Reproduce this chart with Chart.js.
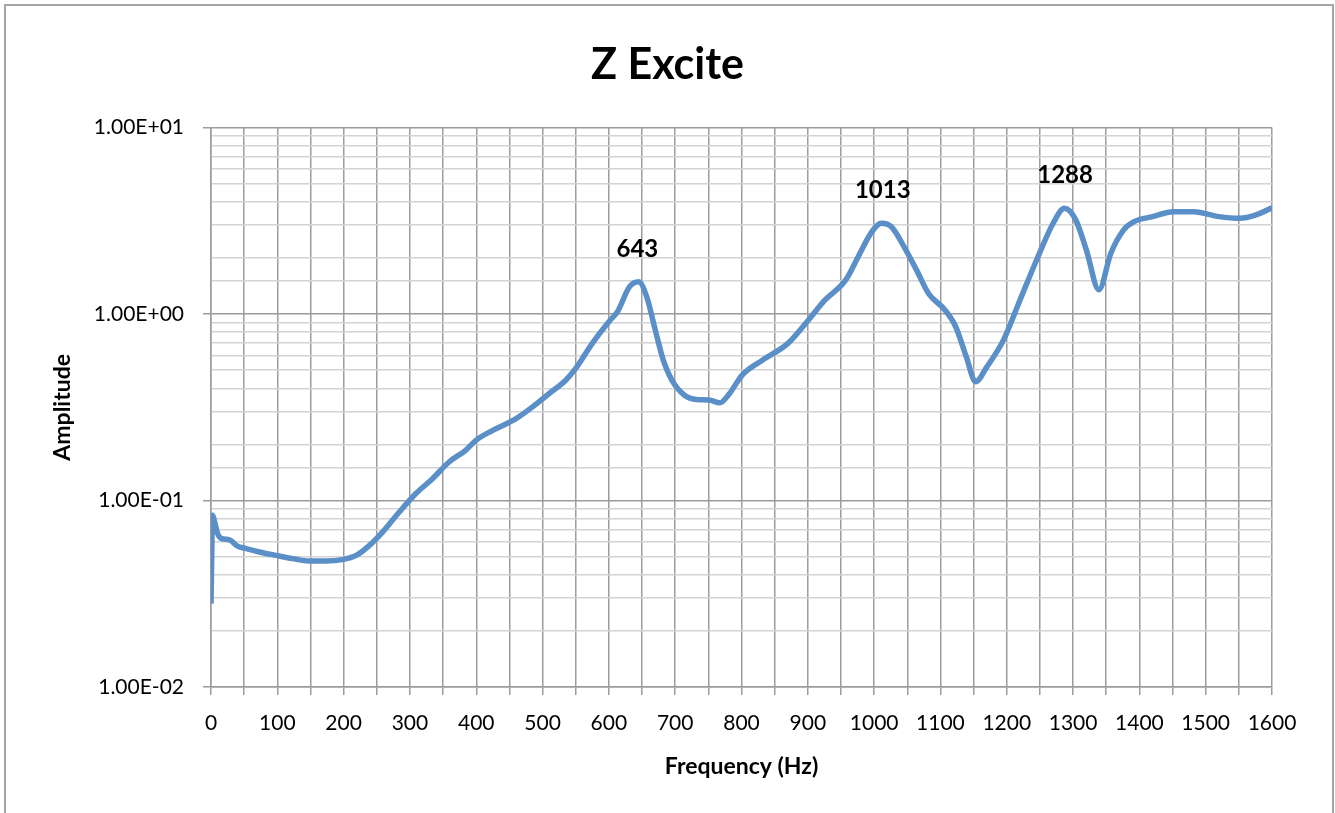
<head>
  <title>Z Excite</title>
  <script src="https://cdn.jsdelivr.net/npm/chart.js@4.4.0/dist/chart.umd.min.js"></script>
  <style>
    html, body {
      margin: 0;
      padding: 0;
      background: #fff;
      overflow: hidden;
      font-family: Lato, sans-serif;
    }

    .wrap {
      position: relative;
      width: 1335px;
      height: 813px;
    }

    .frame {
      position: absolute;
      left: 4px;
      top: 4px;
      width: 1326px;
      height: 900px;
      border: 2px solid #a6a6a6;
      pointer-events: none;
    }

    canvas {
      position: absolute;
      left: 0;
      top: 0;
    }
  </style>
</head>

<div class="wrap">
  <canvas id="chart" width="1335" height="813"></canvas>
  <div class="frame"></div>
</div>

<script>
  // frequency (Hz) and amplitude
  const freqs = [
    0, 2.5, 5, 10, 15, 28, 40, 53, 73, 98, 123, 148, 173, 198, 219, 239, 259, 284,
    309, 334, 359, 384, 400, 425, 460, 485, 510, 535, 550, 575, 600, 613, 631, 645,
    657, 670, 682, 695, 714, 732, 751, 767, 782, 801, 832, 870, 901, 926, 957, 976,
    995, 1011, 1026, 1045, 1064, 1082, 1107, 1123, 1139, 1153, 1170, 1195, 1220, 1245,
    1270, 1287, 1304, 1320, 1339, 1357, 1376, 1392, 1420, 1451, 1482, 1520, 1551, 1576, 1600
  ];
  const amps = [
    0.028, 0.0834, 0.078, 0.0665, 0.0628, 0.0615, 0.0569, 0.0552, 0.053, 0.0508, 0.0488, 0.0474, 0.0474, 0.0482, 0.0508, 0.0575, 0.0679, 0.0868,
    0.109, 0.131, 0.161, 0.186, 0.211, 0.238, 0.275, 0.318, 0.375, 0.442, 0.511, 0.697, 0.91, 1.03, 1.40, 1.49,
    1.24, 0.82, 0.567, 0.442, 0.367, 0.348, 0.346, 0.334, 0.375, 0.471, 0.567, 0.696, 0.93, 1.19, 1.52, 2.03,
    2.71, 3.07, 2.94, 2.30, 1.72, 1.29, 1.05, 0.855, 0.590, 0.433, 0.521, 0.725, 1.19, 1.95,
    3.07, 3.69, 3.2, 2.21, 1.35, 2.12, 2.82, 3.13, 3.33, 3.54, 3.54, 3.33, 3.26, 3.40, 3.72
  ];

  // peak labels
  const peakFreqs = [643, 1013, 1288];
  const peakAmps = [1.49, 3.07, 3.69];

  const FONT = 'Lato, sans-serif';
  const GRID_DARK = '#9c9c9c';
  const GRID_LIGHT = '#d3d3d3';

  function isDecade(v) {
    const l = Math.log10(v);
    return Math.abs(l - Math.round(l)) < 1e-6;
  }

  function sci(v) {
    const e = Math.round(Math.log10(v));
    const sign = e < 0 ? '-' : '+';
    return '1.00E' + sign + String(Math.abs(e)).padStart(2, '0');
  }

  const peakLabels = {
    id: 'peakLabels',
    afterDatasetsDraw(chart) {
      const { ctx, scales: { x, y } } = chart;
      ctx.save();
      ctx.font = `bold 24px ${FONT}`;
      ctx.fillStyle = '#000';
      ctx.textAlign = 'center';
      ctx.textBaseline = 'middle';
      peakFreqs.forEach((f, i) => {
        ctx.fillText(String(f), x.getPixelForValue(f), y.getPixelForValue(peakAmps[i]) - 33);
      });
      ctx.restore();
    }
  };

  new Chart(document.getElementById('chart'), {
    type: 'line',
    data: {
      datasets: [{
        data: freqs.map((f, i) => ({ x: f, y: amps[i] })),
        borderColor: '#5a8fc8',
        borderWidth: 5.5,
        pointRadius: 0,
        cubicInterpolationMode: 'monotone',
        fill: false
      }]
    },
    options: {
      responsive: false,
      animation: false,
      devicePixelRatio: 1,
      layout: { padding: 0 },
      plugins: {
        legend: { display: false },
        tooltip: { enabled: false },
        title: {
          display: true,
          text: 'Z Excite',
          color: '#000',
          font: { family: FONT, size: 43, weight: 'bold', lineHeight: 1.2 },
          padding: { top: 39, bottom: 37 }
        }
      },
      scales: {
        x: {
          type: 'linear',
          min: 0,
          max: 1600,
          afterFit(scale) { scale.height = 126; },
          border: { display: true, color: GRID_DARK, width: 1.5 },
          grid: { color: GRID_DARK, lineWidth: 1.5, tickLength: 8, tickColor: GRID_DARK },
          ticks: {
            stepSize: 50,
            autoSkip: false,
            maxRotation: 0,
            padding: 16,
            color: '#000',
            font: { family: FONT, size: 21 },
            callback(v) { return v % 100 === 0 ? String(v) : ''; }
          },
          title: {
            display: true,
            text: 'Frequency (Hz)',
            color: '#000',
            font: { family: FONT, size: 23, weight: 'bold', lineHeight: 1.2 },
            padding: { top: 0, bottom: 33 }
          }
        },
        y: {
          type: 'logarithmic',
          min: 0.01,
          max: 10,
          afterFit(scale) { scale.width = 211; },
          border: { display: true, color: GRID_DARK, width: 1.5 },
          grid: {
            lineWidth: 1.5,
            tickLength: 8,
            color: ctx => isDecade(ctx.tick.value) ? GRID_DARK : GRID_LIGHT,
            tickColor: ctx => isDecade(ctx.tick.value) ? GRID_DARK : 'rgba(0,0,0,0)'
          },
          ticks: {
            autoSkip: false,
            padding: 19,
            color: '#000',
            font: { family: FONT, size: 21 },
            callback(v) { return isDecade(v) ? sci(v) : ''; }
          },
          title: {
            display: true,
            text: 'Amplitude',
            color: '#000',
            font: { family: FONT, size: 23, weight: 'bold', lineHeight: 1.2 },
            padding: { top: 49, bottom: 0 }
          }
        },
        // empty right-hand margin so the title stays centred on the page
        yRight: {
          type: 'linear',
          position: 'right',
          display: true,
          afterFit(scale) { scale.width = 63; },
          border: { display: false },
          grid: { display: false, drawTicks: false },
          ticks: { display: false }
        }
      }
    },
    plugins: [peakLabels]
  });
</script>
